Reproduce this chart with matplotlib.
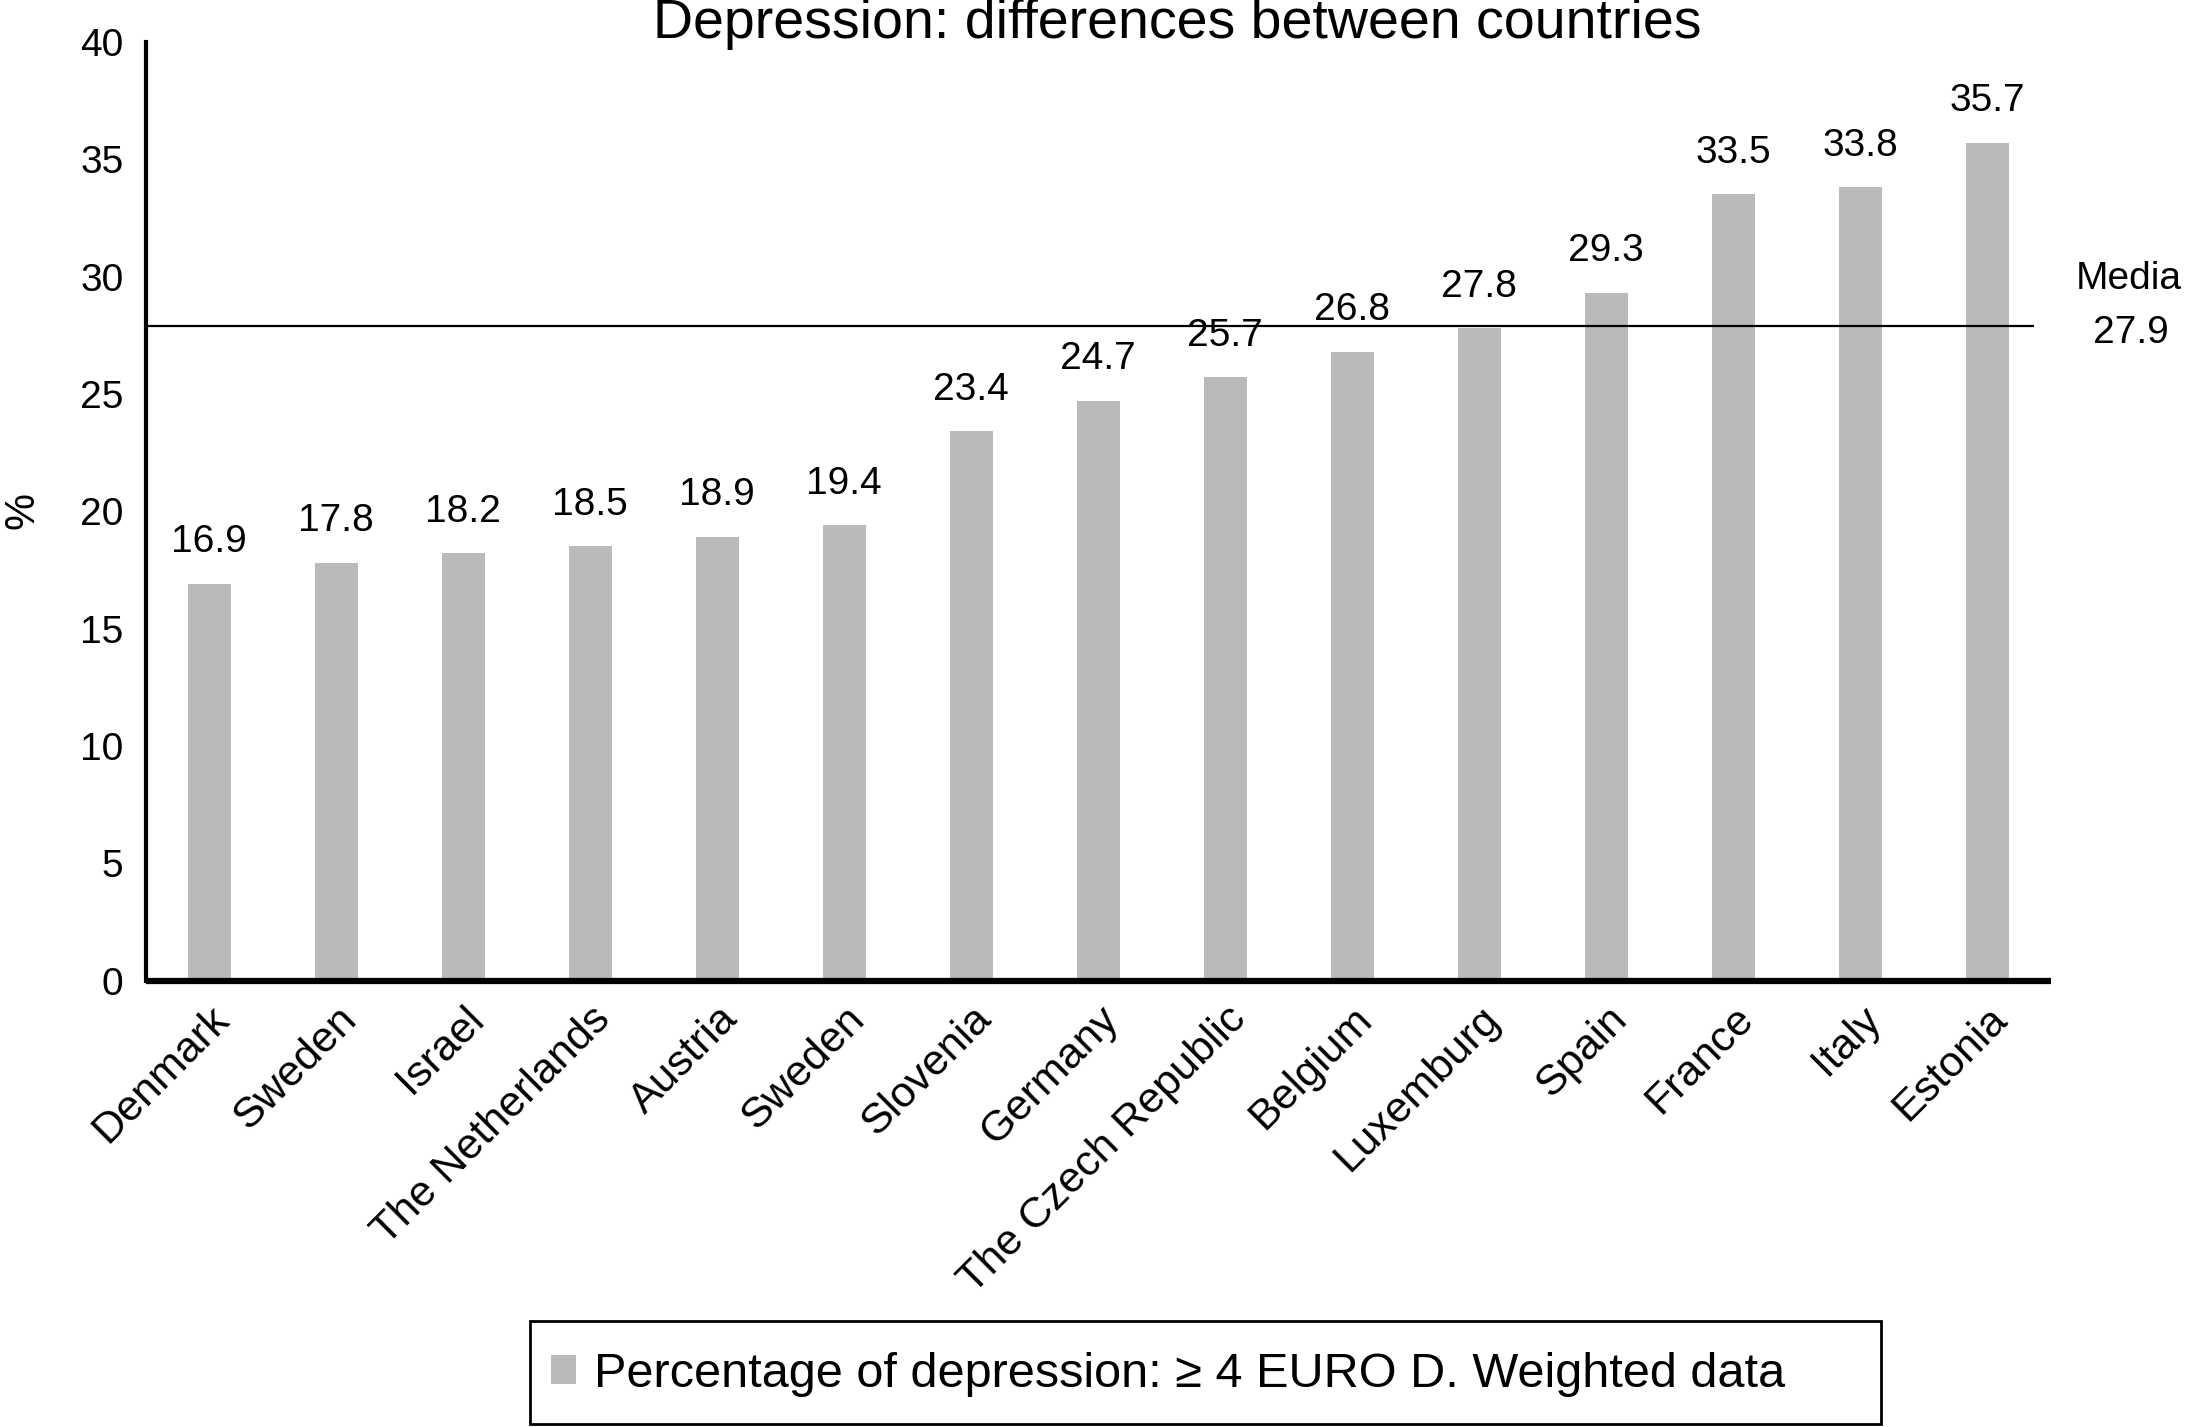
import matplotlib
matplotlib.use('Agg')
import matplotlib.pyplot as plt
import matplotlib.patches as patches
import matplotlib.transforms as mtransforms

plt.rcParams['font.family'] = ['Liberation Sans', 'DejaVu Sans']

# ── data ──────────────────────────────────────────────────────
countries = ["Denmark", "Sweden", "Israel", "The Netherlands", "Austria", "Sweden",
             "Slovenia", "Germany", "The Czech Republic", "Belgium", "Luxemburg",
             "Spain", "France", "Italy", "Estonia"]
values = [16.9, 17.8, 18.2, 18.5, 18.9, 19.4, 23.4, 24.7, 25.7, 26.8, 27.8,
          29.3, 33.5, 33.8, 35.7]
media = 27.9
yticks = [0, 5, 10, 15, 20, 25, 30, 35, 40]
legend_label = "Percentage of depression: \u2265 4 EURO D. Weighted data"
title = "Depression: differences between countries"

BAR_COLOR = '#b9babc'
FS = 28

fig = plt.figure(figsize=(21.88, 14.27), dpi=100)
ax = fig.add_axes([0.0666, 0.3128, 0.8707, 0.6579])

x = list(range(len(countries)))
bars = ax.bar(x, values, width=0.34, color=BAR_COLOR, label=legend_label, zorder=2)
for xi, v in zip(x, values):
    ax.annotate(f"{v:.1f}", (xi, v), xytext=(0, 17), textcoords='offset points',
                ha='center', va='bottom', fontsize=FS)

# median line
ax.hlines(media, -0.5, 14.37, color='black', lw=1.6, zorder=3)
trans = mtransforms.blended_transform_factory(ax.transAxes, ax.transData)
ax.text(1.041, 29.9, "Media", transform=trans, ha='center', va='center', fontsize=FS)
ax.text(1.042, 27.6, f"{media:.1f}", transform=trans, ha='center', va='center', fontsize=FS)

ax.set_xlim(-0.5, 14.5)
ax.set_ylim(0, 40)
ax.set_yticks(yticks)
ax.set_yticklabels([str(t) for t in yticks], fontsize=FS)
ax.set_xticks(x)
ax.set_xticklabels(countries, rotation=45, ha='right', va='top',
                   rotation_mode='anchor', fontsize=31)
ax.tick_params(axis='y', length=0, pad=16)
ax.tick_params(axis='x', length=0, pad=13)

for s in ['top', 'right']:
    ax.spines[s].set_visible(False)
ax.spines['left'].set_linewidth(3)
ax.spines['bottom'].set_linewidth(4.5)
ax.spines['bottom'].set_capstyle('butt')

fig.text(0.0105, 0.642, "%", rotation=90, ha='center', va='center', fontsize=30)
fig.text(0.538, 0.983, title, ha='center', va='center', fontsize=40)

# legend with its own box
box = patches.Rectangle((0.2424, 0.002), 0.6173, 0.0725, transform=fig.transFigure,
                        fill=False, edgecolor='black', lw=2)
fig.patches.append(box)
fig.legend(handles=[bars], labels=[legend_label], loc='center left',
           bbox_to_anchor=(0.252, 0.037), frameon=False, fontsize=35,
           handlelength=0.51, handleheight=0.57, handletextpad=0.37, borderpad=0,
           borderaxespad=0)

plt.savefig("out.png", dpi=100)
plt.close()
